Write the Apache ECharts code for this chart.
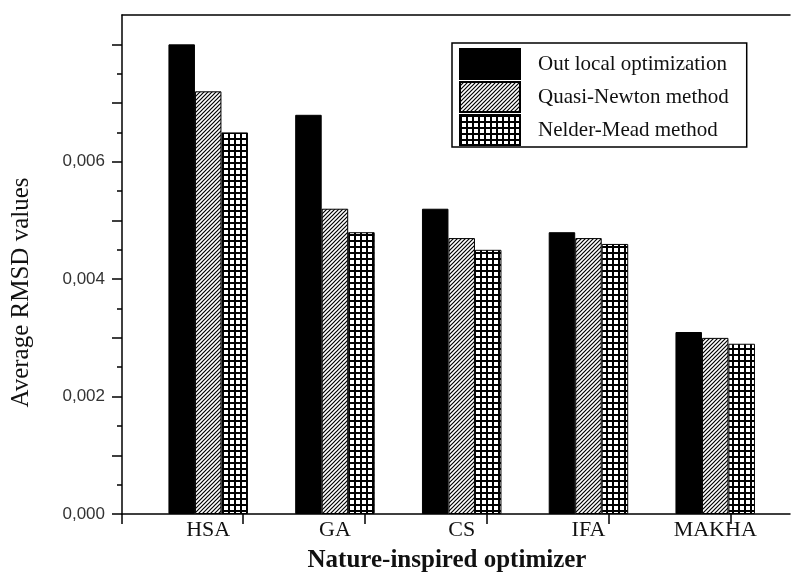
<!DOCTYPE html>
<html>
<head>
<meta charset="utf-8">
<script src="https://cdn.jsdelivr.net/npm/echarts@6/dist/echarts.min.js"></script>
<style>
html,body{margin:0;padding:0;background:#fff;}
#chart{width:792px;height:578px;}
</style>
</head>
<body>
<div id="chart"></div>
<script>
// ---- data ----
const categories = ['HSA', 'GA', 'CS', 'IFA', 'MAKHA'];
const seriesNames = ['Out local optimization', 'Quasi-Newton method', 'Nelder-Mead method'];
const outLocal    = [0.0080, 0.0068, 0.0052, 0.0048, 0.0031];
const quasiNewton = [0.0072, 0.0052, 0.0047, 0.0047, 0.0030];
const nelderMead  = [0.0065, 0.0048, 0.0045, 0.0046, 0.0029];
const yLabelValues = [0, 0.002, 0.004, 0.006];
const yTickLabels  = ['0,000', '0,002', '0,004', '0,006'];
const xAxisTitle = 'Nature-inspired optimizer';
const yAxisTitle = 'Average RMSD values';

// ---- patterns ----
function hatchPattern() {
  const c = document.createElement('canvas');
  c.width = 4; c.height = 4;
  const ctx = c.getContext('2d');
  ctx.fillStyle = '#fff'; ctx.fillRect(0, 0, 4, 4);
  ctx.strokeStyle = '#000'; ctx.lineWidth = 1.2;
  ctx.beginPath();
  ctx.moveTo(-1, 5); ctx.lineTo(5, -1);
  ctx.moveTo(-1, 1); ctx.lineTo(1, -1);
  ctx.moveTo(3, 5); ctx.lineTo(5, 3);
  ctx.stroke();
  return { image: c, repeat: 'repeat' };
}
function gridPattern() {
  const c = document.createElement('canvas');
  c.width = 6; c.height = 6;
  const ctx = c.getContext('2d');
  ctx.fillStyle = '#fff'; ctx.fillRect(0, 0, 6, 6);
  ctx.fillStyle = '#000';
  ctx.fillRect(0, 0, 2, 6);
  ctx.fillRect(0, 0, 6, 2);
  return { image: c, repeat: 'repeat' };
}

const fills = ['#000', hatchPattern(), gridPattern()];
const values = [outLocal, quasiNewton, nelderMead];

const xMin = -0.68, xMax = 4.59;
const xTickPos = [xMin, 0.272, 1.235, 2.198, 3.16, 4.12];

const chart = echarts.init(document.getElementById('chart'), null, { renderer: 'canvas' });
const option = {
  animation: false,
  backgroundColor: '#fff',
  grid: { left: 122, right: 2, top: 15, bottom: 61, containLabel: false },
  legend: {
    orient: 'vertical',
    left: 452, top: 43,
    itemWidth: 60, itemHeight: 30, itemGap: 1,
    padding: [5, 18, 1, 7],
    borderColor: '#000', borderWidth: 1.5,
    backgroundColor: '#fff',
    icon: 'rect',
    textStyle: { fontFamily: 'Liberation Serif', fontSize: 21, color: '#111', padding: [0, 0, 0, 13] },
    data: seriesNames
  },
  xAxis: [{
    type: 'value', min: xMin, max: xMax, position: 'bottom',
    axisLine: { show: true, onZero: false, lineStyle: { color: '#000', width: 1.5 } },
    axisTick: { show: true, inside: false, length: 10, customValues: xTickPos, lineStyle: { color: '#000', width: 1.5 } },
    axisLabel: {
      customValues: categories.map((c, i) => i),
      formatter: v => categories[Math.round(v)] || '',
      fontFamily: 'Liberation Serif', fontSize: 22, color: '#111', margin: 5
    },
    splitLine: { show: false },
    name: xAxisTitle, nameLocation: 'middle', nameGap: 34,
    nameTextStyle: { fontFamily: 'Liberation Serif', fontSize: 25, fontWeight: 'bold', color: '#111', padding: [0, 18, 0, 0] }
  }, {
    type: 'value', min: xMin, max: xMax, position: 'top',
    axisLine: { show: true, onZero: false, lineStyle: { color: '#000', width: 1.5 } },
    axisTick: { show: false }, axisLabel: { show: false }, splitLine: { show: false }
  }],
  yAxis: [{
    type: 'value', min: 0, max: 0.0085, interval: 0.001, position: 'left',
    axisLine: { show: true, onZero: false, lineStyle: { color: '#000', width: 1.5 } },
    axisTick: { show: true, inside: false, length: 10,
      customValues: [0, 0.001, 0.002, 0.003, 0.004, 0.005, 0.006, 0.007, 0.008],
      lineStyle: { color: '#000', width: 1.5 } },
    axisLabel: {
      customValues: yLabelValues,
      formatter: v => { const i = yLabelValues.findIndex(t => Math.abs(t - v) < 1e-9); return i >= 0 ? yTickLabels[i] : ''; },
      fontFamily: 'Liberation Sans', fontSize: 17, color: '#333', margin: 17
    },
    splitLine: { show: false },
    name: yAxisTitle, nameLocation: 'middle', nameGap: 88, nameRotate: 90,
    nameTextStyle: { fontFamily: 'Liberation Serif', fontSize: 25, color: '#111', padding: [0, 56, 0, 0] }
  }, {
    type: 'value', min: 0, max: 0.0085, interval: 0.001, position: 'left',
    axisLine: { show: false, onZero: false },
    axisTick: { show: true, inside: false, length: 5,
      customValues: [0.0005, 0.0015, 0.0025, 0.0035, 0.0045, 0.0055, 0.0065, 0.0075],
      lineStyle: { color: '#000', width: 1.5 } },
    axisLabel: { show: false }, splitLine: { show: false }
  }],
  series: seriesNames.map((name, k) => ({
    name: name,
    type: 'bar',
    xAxisIndex: 0, yAxisIndex: 0,
    barWidth: 26.5,
    barGap: '0%',
    itemStyle: { color: fills[k], borderColor: '#000', borderWidth: 1 },
    emphasis: { disabled: true },
    data: categories.map((c, i) => [i, values[k][i]])
  }))
};
chart.setOption(option);
</script>
</body>
</html>
